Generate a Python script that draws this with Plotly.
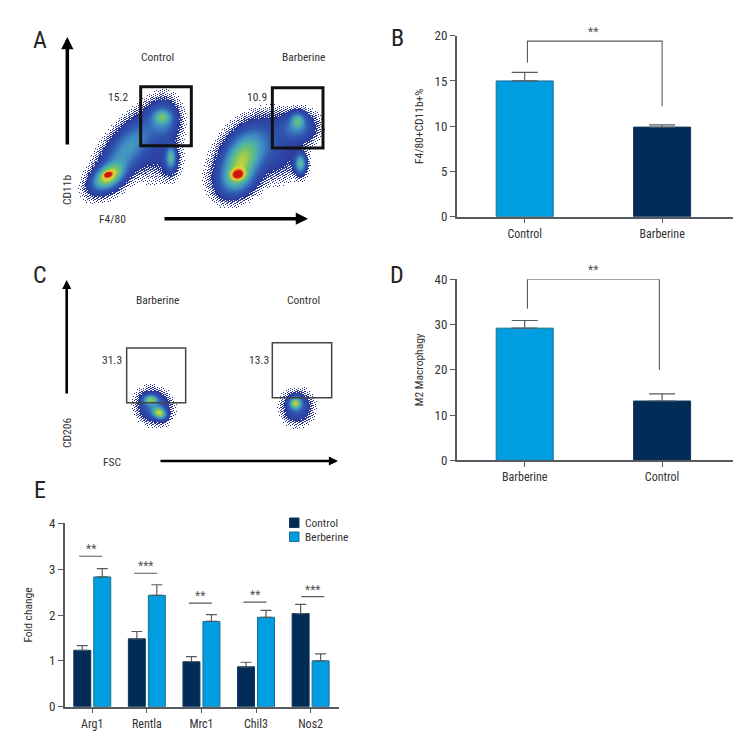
import numpy as np
import plotly.graph_objects as go

S = 756.0
M = 8.0   # page margin of the browser
W = S - M
FONT = "Roboto Condensed, Liberation Sans, sans-serif"
TXT = "#333333"
AX = "#555b60"
LIGHT = "#009ee0"
DARK = "#022c58"
EDGE_L = "#1c6f8f"
EDGE_D = "#12385c"

b_cats = ["Control", "Barberine"]
b_vals = [15.0, 9.9]
b_err = [0.95, 0.25]
b_colors = [LIGHT, DARK]
b_ticks = [0, 5, 10, 15, 20]
d_cats = ["Barberine", "Control"]
d_vals = [29.2, 13.1]
d_err = [1.7, 1.6]
d_colors = [LIGHT, DARK]
d_ticks = [0, 10, 20, 30, 40]
e_genes = ["Arg1", "Rentla", "Mrc1", "Chil3", "Nos2"]
e_control = [1.23, 1.48, 0.98, 0.87, 2.03]
e_control_err = [0.10, 0.16, 0.11, 0.10, 0.20]
e_berberine = [2.83, 2.43, 1.86, 1.95, 1.00]
e_berberine_err = [0.18, 0.23, 0.15, 0.15, 0.15]
e_sig_labels = ["**", "***", "**", "**", "***"]
e_sig_heights = [3.28, 2.91, 2.26, 2.28, 2.40]
e_sig_offsets = [-0.03, -0.02, -0.02, -0.02, 0.04]
e_ticks = [0, 1, 2, 3, 4]

def z3(x, y, ox, oy):
    return x / 3 + ox, y / 3 + oy

a_clusters = [
    (265, 465, 30, 18, -35, .50), (262, 462, 8, 5, -15, .62), (320, 385, 75, 32, -52, .30),
    (425, 290, 16, 13, 0, .26), (430, 300, 28, 36, 0, .24), (452, 410, 9, 20, 0, .30),
    (450, 420, 16, 30, 0, .12),
    (400, 400, 45, 50, 0, .07), (260, 480, 36, 22, -30, .16),
    (652, 462, 13, 10, -10, .70), (660, 430, 52, 30, -68, .36), (680, 395, 65, 40, -50, .28),
    (832, 300, 13, 15, 0, .28), (830, 320, 34, 28, 0, .24), (840, 430, 11, 19, 0, .42),
    (775, 400, 45, 50, 0, .08), (650, 480, 36, 28, -20, .18),
]
c_clusters = [
    (390, 418, 13, 9, 0, .42), (417, 458, 13, 10, 30, .54), (400, 438, 30, 27, 40, .22),
    (825, 428, 11, 11, 0, .50), (830, 440, 26, 28, 0, .18),
]

fig = go.Figure()

def dom(a, b):
    return [(a - M) / W, (b - M) / W]
def ydom(top, bottom):
    return [1 - (bottom - M) / W, 1 - (top - M) / W]

px = np.arange(60, 345, 1.0)
py = np.arange(60, 440, 1.0)
X, Y = np.meshgrid(px, py)
Z = np.zeros_like(X)
for group, oy in ((a_clusters, 20), (c_clusters, 260)):
    for cx, cy, ma, mi, ang, w in group:
        x0, y0 = z3(cx, cy, 20, oy)
        t = np.deg2rad(ang)
        dx, dy = X - x0, Y - y0
        u = dx * np.cos(t) + dy * np.sin(t)
        v = -dx * np.sin(t) + dy * np.cos(t)
        Z += w * np.exp(-0.5 * ((u / (ma / 3)) ** 2 + (v / (mi / 3)) ** 2))
Z = np.clip(Z, 0, 1)
# halftone of the thin outer part of each density (ordered, no randomness)
order = (X * 0.7548776662 + Y * 0.5698402910) % 1.0
edge = Z < 0.07
keep = (Z / 0.07) ** 1.3 > order
low = Z < 0.012
Z = np.where(edge & keep, 0.03 + 0.05 * order, Z)
Z[edge & ~keep] = np.nan
Z[low] = np.nan
scale = [[0, "#23246e"], [.06, "#2c3d9e"], [.16, "#2f56b0"], [.28, "#3f8cc4"],
         [.4, "#4db3a8"], [.54, "#7cc25f"], [.68, "#d8d83c"], [.8, "#f2a222"], [.9, "#e6401e"], [1, "#cc1414"]]
fig.add_trace(go.Heatmap(x=px, y=py, z=Z, zmin=0, zmax=1, colorscale=scale, showscale=False,
                         hoverinfo="skip", xaxis="x4", yaxis="y4"))

def simple_bar(xa, ya, cats, vals, errs, colors):
    xs = list(range(len(cats)))
    fig.add_trace(go.Bar(x=xs, y=vals, width=0.415, marker=dict(color=colors, line=dict(color=[EDGE_L, EDGE_D], width=1)),
                         error_y=dict(type="data", symmetric=False, array=errs, arrayminus=[0] * len(errs), color=AX, thickness=1.2, width=13),
                         xaxis=xa, yaxis=ya, showlegend=False))

simple_bar("x", "y", b_cats, b_vals, b_err, b_colors)
simple_bar("x2", "y2", d_cats, d_vals, d_err, d_colors)

ex = list(range(len(e_genes)))
fig.add_trace(go.Bar(x=ex, y=e_control, name="Control", marker=dict(color=DARK, line=dict(color=EDGE_D, width=1)), showlegend=False,
                     error_y=dict(type="data", symmetric=False, array=e_control_err, arrayminus=[0] * 5, color=AX, thickness=1.2, width=5.5),
                     xaxis="x3", yaxis="y3"))
fig.add_trace(go.Bar(x=ex, y=e_berberine, name="Berberine", marker=dict(color=LIGHT, line=dict(color=EDGE_L, width=1)), showlegend=False,
                     error_y=dict(type="data", symmetric=False, array=e_berberine_err, arrayminus=[0] * 5, color=AX, thickness=1.2, width=5.5),
                     xaxis="x3", yaxis="y3"))

def line(xa, ya, xs, ys, color=AX, w=1.1):
    fig.add_trace(go.Scatter(x=xs, y=ys, mode="lines", line=dict(color=color, width=w), xaxis=xa, yaxis=ya,
                             showlegend=False, hoverinfo="skip"))

line("x", "y", [0.02, 0.02, 1.0, 1.0], [17.0, 19.4, 19.4, 12.2])
line("x2", "y2", [0.02, 0.02, 0.98, 0.98], [33.5, 40, 40, 20])
anns = []
def txt(x, y, s, size=11.5, angle=0, anchor="center", color=TXT, family=FONT):
    anns.append(dict(x=x, y=y, text=s, xref="x4", yref="y4", showarrow=False, textangle=angle, xanchor=anchor,
                     yanchor="middle", font=dict(family=family, size=size, color=color)))

for i, (lab, h, off) in enumerate(zip(e_sig_labels, e_sig_heights, e_sig_offsets)):
    line("x3", "y3", [i - 0.21 + off, i + 0.21 + off], [h, h])
    anns.append(dict(x=i + off, y=h, yshift=-2, text=lab, xref="x3", yref="y3", showarrow=False, yanchor="bottom",
                     font=dict(family=FONT, size=12, color="#555555")))
anns.append(dict(x=0.5, y=19.4, text="**", xref="x", yref="y", showarrow=False, yanchor="bottom",
                 font=dict(family=FONT, size=12, color="#555555")))
anns.append(dict(x=0.5, y=40, text="**", xref="x2", yref="y2", showarrow=False, yanchor="bottom",
                 font=dict(family=FONT, size=12, color="#555555")))

for s, x, y in [("A", 40, 40), ("B", 397, 38), ("C", 40, 275), ("D", 397, 275), ("E", 40, 490)]:
    txt(x, y, s, size=24, color="#222222")
for s, x, y in [("Control", 157, 57), ("Barberine", 303, 57), ("15.2", 118, 97), ("10.9", 257, 97), ("F4/80", 112, 219),
                ("Barberine", 157, 300), ("Control", 303, 300), ("31.3", 112, 360), ("13.3", 259, 360), ("FSC", 112, 462)]:
    txt(x, y, s)
txt(67, 190, "CD11b", angle=-90)
txt(67, 433, "CD206", angle=-90)

shapes = []
for y0, c, e, s in [(518, DARK, EDGE_D, "Control"), (532, LIGHT, EDGE_L, "Berberine")]:
    shapes.append(dict(type="rect", xref="x4", yref="y4", x0=289.5, x1=299, y0=y0, y1=y0 + 9.5, fillcolor=c, line=dict(color=e, width=1)))
    txt(303, y0 + 5, s, anchor="left")

for x0, y0, x1, y1, w in [(67.3, 146, 67.3, 37, 3.5), (163, 218.7, 308, 218.7, 3.5), (66.7, 395, 66.7, 280, 2.6), (159, 461, 338, 461, 2.6)]:
    anns.append(dict(x=x1, y=y1, ax=x0, ay=y0, xref="x4", yref="y4", axref="x4", ayref="y4", text="", showarrow=True,
                     arrowhead=2, arrowsize=0.7, arrowwidth=w, arrowcolor="#000000"))

for x0, y0, x1, y1, oy, w, c in [(362, 200, 514, 377, 20, 3, "#111111"), (757, 203, 909, 384, 20, 3, "#111111"),
                                 (320, 264, 497, 428, 260, 1.5, "#444444"), (757, 248, 935, 413, 260, 1.5, "#444444")]:
    ax0, ay0 = z3(x0, y0, 20, oy)
    ax1, ay1 = z3(x1, y1, 20, oy)
    shapes.append(dict(type="rect", xref="x4", yref="y4", x0=ax0, y0=ay0, x1=ax1, y1=ay1, line=dict(color=c, width=w)))

def xaxis(domain, tickvals, ticktext, rng, anchor):
    return dict(domain=domain, range=rng, tickmode="array", tickvals=tickvals, ticktext=ticktext, anchor=anchor, automargin=False,
                showgrid=False, zeroline=False, showline=True, linecolor=AX, linewidth=1.5, ticks="outside", ticklen=5,
                tickcolor=AX, tickwidth=1.2, tickfont=dict(family=FONT, size=12, color=TXT))

def yaxis(domain, ticks, rng, anchor, title, standoff):
    return dict(domain=domain, range=rng, tickmode="array", tickvals=ticks, anchor=anchor, showgrid=False, zeroline=False, automargin=False,
                showline=True, linecolor=AX, linewidth=1.5, ticks="outside", ticklen=5, tickcolor=AX, tickwidth=1.2,
                tickfont=dict(family=FONT, size=13, color=TXT),
                title=dict(text=title, font=dict(family=FONT, size=11.5, color=TXT), standoff=standoff))

unit_bd = 137.4
END_BD = 733
left_bd = (456.7 - 524.7) / unit_bd
right_bd = (END_BD - 524.7) / unit_bd
fig.update_layout(
    width=W, height=W, margin=dict(l=0, r=0, t=0, b=0), paper_bgcolor="white", plot_bgcolor="rgba(0,0,0,0)",
    barmode="group", bargap=0.268, bargroupgap=0.15, showlegend=False,
    font=dict(family=FONT, color=TXT),
    xaxis=xaxis(dom(456.7, END_BD), [0, 1], b_cats, [left_bd, right_bd], "y"),
    yaxis=yaxis(ydom(35.7, 216.7), b_ticks, [0, 20], "x", "F4/80+CD11b+%", 8),
    xaxis2=xaxis(dom(456.7, END_BD), [0, 1], d_cats, [left_bd, right_bd], "y2"),
    yaxis2=yaxis(ydom(279.3, 460.3), d_ticks, [0, 40], "x2", "M2 Macrophagy", 8),
    xaxis3=xaxis(dom(64.7, 339), ex, e_genes, [-0.505, 4.52], "y3"),
    yaxis3=yaxis(ydom(523.3, 706.7), e_ticks, [0, 4], "x3", "Fold change", 14),
    xaxis4=dict(domain=[0, 1], range=[M, S], visible=False, anchor="y4", fixedrange=True, automargin=False),
    yaxis4=dict(domain=[0, 1], range=[S, M], visible=False, anchor="x4", fixedrange=True, automargin=False),
    annotations=anns, shapes=shapes,
)
fig.write_html("out.html")
